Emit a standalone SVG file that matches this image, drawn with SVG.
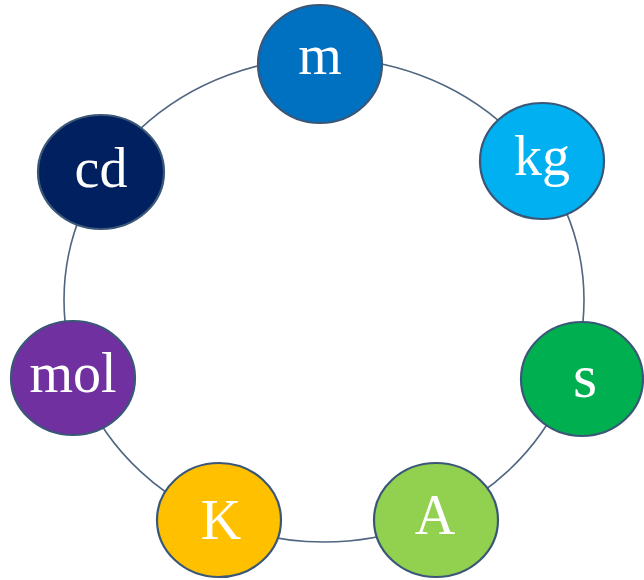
<svg xmlns="http://www.w3.org/2000/svg" width="644" height="580" viewBox="0 0 644 580">
<style>
.n{stroke:#3a5778;stroke-width:2.2}
.t{font-family:"Liberation Serif","DejaVu Serif",serif;font-size:56px;fill:#ffffff;text-anchor:middle}
</style>
<rect width="644" height="580" fill="#ffffff"/>
<g id="connectors">
<ellipse cx="324" cy="300" rx="260" ry="242" fill="none" stroke="#4f6580" stroke-width="1.6"/>
</g>
<g id="m"><ellipse class="n" cx="320" cy="64" rx="62" ry="59" fill="#0070C0"/><text class="t" x="320" y="74">m</text></g>
<g id="kg"><ellipse class="n" cx="542" cy="161" rx="62" ry="58" fill="#00B0F0"/><text class="t" x="542" y="175">kg</text></g>
<g id="s"><ellipse class="n" cx="582" cy="379" rx="61" ry="57" fill="#00B050"/><text class="t" x="585" y="397" style="font-size:62px">s</text></g>
<g id="A"><ellipse class="n" cx="436" cy="520" rx="62" ry="57" fill="#92D050"/><text class="t" x="435" y="534">A</text></g>
<g id="K"><ellipse class="n" cx="219" cy="520" rx="62" ry="57" fill="#FFC000"/><text class="t" x="221" y="539">K</text></g>
<g id="mol"><ellipse class="n" cx="73" cy="378" rx="62" ry="57" fill="#7030A0"/><text class="t" x="73" y="392">mol</text></g>
<g id="cd"><ellipse class="n" cx="101" cy="172" rx="63" ry="57" fill="#002060"/><text class="t" x="101" y="187">cd</text></g>
</svg>
